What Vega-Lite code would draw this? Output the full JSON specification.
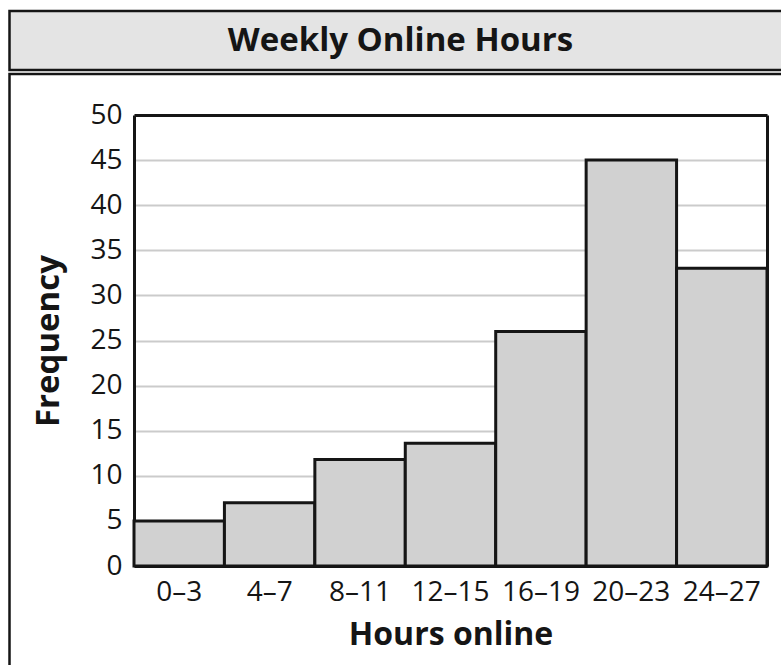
{
  "$schema": "https://vega.github.io/schema/vega-lite/v6.json",
  "padding": {"left": 7.5, "top": 9, "right": -20, "bottom": -3},
  "background": "white",
  "spacing": 0,
  "config": {"font": "Open Sans", "concat": {"spacing": 0}},
  "vconcat": [
    {
      "width": 792,
      "height": 59,
      "view": {"fill": "#e4e4e4", "stroke": "#151515", "strokeWidth": 2.5},
      "data": {"values": [{"title": "Weekly Online Hours"}]},
      "mark": {"type": "text", "font": "Open Sans", "fontWeight": "bold", "fontSize": 33, "color": "#151515", "baseline": "middle", "align": "center", "dx": -5},
      "encoding": {"text": {"field": "title", "type": "nominal"}}
    },
    {
      "width": 792,
      "height": 596,
      "view": {"fill": "white", "stroke": "#151515", "strokeWidth": 2.5},
      "data": {
        "values": [
          {"hours": "0–3", "freq": 5},
          {"hours": "4–7", "freq": 7},
          {"hours": "8–11", "freq": 11.8},
          {"hours": "12–15", "freq": 13.6},
          {"hours": "16–19", "freq": 26},
          {"hours": "20–23", "freq": 45},
          {"hours": "24–27", "freq": 33}
        ]
      },
      "resolve": {"axis": {"x": "independent", "y": "independent"}},
      "layer": [
        {
          "mark": {"type": "bar", "fill": "#d1d1d1", "stroke": "#151515", "strokeWidth": 3},
          "encoding": {
            "x": {
              "field": "hours", "type": "ordinal", "sort": null,
              "scale": {"range": [124.5, 757.5], "paddingInner": 0, "paddingOuter": 0},
              "axis": {
                "orient": "bottom", "offset": -104, "title": "Hours online", "labelAngle": 0,
                "domain": true, "domainColor": "#151515", "domainWidth": 3, "ticks": false,
                "labelFont": "Open Sans", "labelFontSize": 28, "labelColor": "#151515", "labelPadding": 12,
                "titleFont": "Open Sans", "titleFontSize": 32, "titleFontWeight": "bold", "titleColor": "#151515", "titlePadding": 13
              }
            },
            "y": {
              "field": "freq", "type": "quantitative",
              "scale": {"domain": [0, 50], "range": [492, 41], "nice": false, "zero": true},
              "axis": {
                "orient": "left", "offset": -124.5, "title": "Frequency",
                "values": [0, 5, 10, 15, 20, 25, 30, 35, 40, 45, 50],
                "grid": true, "gridColor": "#cbcbcb", "gridWidth": 2,
                "domain": true, "domainColor": "#151515", "domainWidth": 3, "ticks": false,
                "labelFont": "Open Sans", "labelFontSize": 28, "labelColor": "#151515", "labelPadding": 12,
                "titleFont": "Open Sans", "titleFontSize": 33, "titleFontWeight": "bold", "titleColor": "#151515", "titlePadding": 24
              }
            }
          }
        },
        {
          "mark": {"type": "bar", "opacity": 0},
          "encoding": {
            "x": {
              "field": "hours", "type": "ordinal", "sort": null,
              "axis": {"orient": "top", "offset": -41, "title": null, "labels": false, "ticks": false, "grid": false, "domain": true, "domainColor": "#151515", "domainWidth": 3}
            },
            "y": {
              "field": "freq", "type": "quantitative",
              "axis": {"orient": "right", "offset": -34.5, "title": null, "labels": false, "ticks": false, "grid": false, "domain": true, "domainColor": "#151515", "domainWidth": 3}
            }
          }
        }
      ]
    }
  ]
}
